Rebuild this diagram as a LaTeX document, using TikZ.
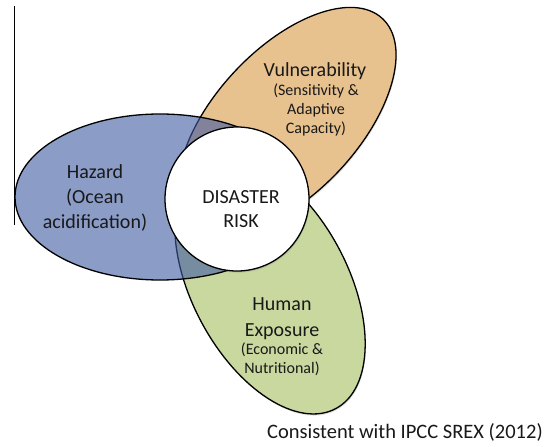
\documentclass[tikz,border=0pt]{standalone}
\usepackage{fontspec}
\setmainfont{Carlito}
\usetikzlibrary{shapes.geometric,shadows}
\definecolor{hazblue}{RGB}{63,90,163}
\definecolor{vulorange}{RGB}{232,194,142}
\definecolor{expgreen}{RGB}{201,216,158}
\definecolor{txt}{RGB}{25,25,25}
\begin{document}
\begin{tikzpicture}[x=1pt,y=-1pt,
  petal/.style={ellipse, draw=black, line width=1.3pt, inner sep=0pt, outer sep=0pt},
  softshadow/.style={drop shadow={opacity=0.25, shadow xshift=0.8pt, shadow yshift=-1.6pt}},
  bigtxt/.style={font=\fontsize{20}{24}\selectfont, anchor=base, inner sep=0pt, text=txt},
  smalltxt/.style={font=\fontsize{16}{19}\selectfont, anchor=base, inner sep=0pt, text=txt}]
\useasboundingbox (0,0) rectangle (544,447);
\fill[white] (0,0) rectangle (544,447);
% vertical rule
\coordinate (vtop) at (14,6);
\coordinate (vbot) at (14,225);
\draw[line width=0.9pt] (vtop) -- (vbot);
% petals
\node[petal, softshadow, fill=vulorange, minimum width=280pt, minimum height=144pt, rotate=47] (vul) at (287,121) {};
\node[petal, softshadow, fill=expgreen, minimum width=280pt, minimum height=156pt, rotate=-62] (exp) at (270,285) {};
\node[petal, fill=hazblue, fill opacity=0.6, minimum width=290pt, minimum height=166pt] (haz) at (160,197) {};
\node[circle, softshadow, draw=black, line width=1.3pt, fill=white, minimum size=144pt, inner sep=0pt] (risk) at (237,199) {};
% texts
\node[bigtxt] (h1) at (95,178) {Hazard};
\node[bigtxt] (h2) at (95,203) {(Ocean};
\node[bigtxt] (h3) at (95,228) {acidification)};
\node[bigtxt] (v1) at (315,76) {Vulnerability};
\node[smalltxt] (v2) at (316,95) {(Sensitivity \&};
\node[smalltxt] (v3) at (316,114) {Adaptive};
\node[smalltxt] (v4) at (316,133) {Capacity)};
\node[bigtxt] (r1) at (241,203) {DISASTER};
\node[bigtxt] (r2) at (241,227) {RISK};
\node[bigtxt] (e1) at (282,310) {Human};
\node[bigtxt] (e2) at (282,336) {Exposure};
\node[smalltxt] (e3) at (282,354) {(Economic \&};
\node[smalltxt] (e4) at (282,373) {Nutritional)};
\node[font=\fontsize{20.5}{25}\selectfont, anchor=base east, inner sep=0pt, text=txt] (cap) at (543,438) {Consistent with IPCC SREX (2012)};
\end{tikzpicture}
\end{document}
